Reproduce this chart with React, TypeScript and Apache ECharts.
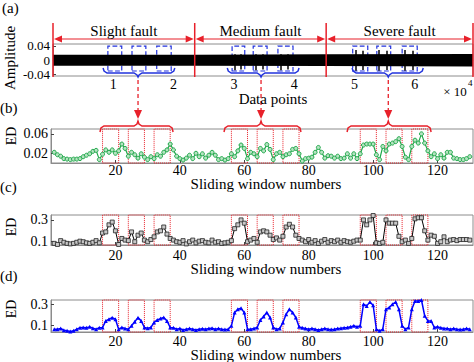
import React, { useEffect, useRef } from "react";
import * as echarts from "echarts";

const FONT = '"Liberation Serif", "Times New Roman", serif';
const RED = "#e8202a";
const BLUE = "#2233dd";

// ---- panel (a): signal ----
const faultLabels = ["Slight fault", "Medium fault", "Severe fault"];
const faultSegments = [0, 23500, 45300, 69650];
const envX = [0, 23500, 23500, 45300, 45300, 69650];
const envUpper = [0.015, 0.015, 0.016, 0.016, 0.017, 0.017];
const envLower = [-0.016, -0.016, -0.017, -0.017, -0.018, -0.018];
const spikeX = [30200, 31200, 33700, 34800, 37800, 39000, 50200, 51400, 54100, 55300, 58300, 59600];
const spikeHigh = [0.016, 0.016, 0.016, 0.016, 0.016, 0.016, 0.028, 0.026, 0.028, 0.026, 0.028, 0.026];
const spikeLow = [-0.029, -0.027, -0.029, -0.027, -0.029, -0.027, -0.03, -0.028, -0.03, -0.028, -0.03, -0.028];
const signalBoxes = [
  [9100, 11400], [13100, 15400], [17200, 19600],
  [29700, 31800], [33200, 35500], [37300, 39800],
  [49700, 52200], [53700, 56000], [57900, 60400],
];
const boxY = [-0.031, 0.039];
const signalBraces = [
  [8300, 20200, 14100],
  [28900, 40800, 34500],
  [49600, 61400, 55600],
];
const signalTicks = [10000, 20000, 30000, 40000, 50000, 60000];
const ampTicks = [-0.04, 0, 0.04];

// ---- panels (b)-(d): ED per sliding window ----
const windowTicks = [20, 40, 60, 80, 100, 120];
const faultWindows = [
  [16, 21], [24, 29], [32, 37],
  [56, 61], [64, 69], [72, 77],
  [96, 101], [104, 109], [112, 117],
];
const windowBraces = [
  [15.2, 37.9, 27],
  [53.7, 77.6, 65.2],
  [91.9, 118, 104.7],
];
const edB = [
  0.022, 0.017, 0.014, 0.009, 0.008, 0.007, 0.008, 0.008, 0.009, 0.013,
  0.016, 0.019, 0.024, 0.026, 0.007, 0.018, 0.027, 0.022, 0.027, 0.020,
  0.025, 0.039, 0.030, 0.014, 0.022, 0.017, 0.010, 0.019, 0.012, 0.007,
  0.013, 0.009, 0.017, 0.014, 0.022, 0.027, 0.039, 0.027, 0.014, 0.009,
  0.006, 0.010, 0.016, 0.009, 0.020, 0.013, 0.019, 0.010, 0.016, 0.022,
  0.016, 0.007, 0.009, 0.006, 0.009, 0.019, 0.013, 0.025, 0.037, 0.030,
  0.009, 0.022, 0.019, 0.013, 0.030, 0.025, 0.038, 0.028, 0.007, 0.019,
  0.022, 0.013, 0.017, 0.019, 0.028, 0.030, 0.019, 0.004, 0.009, 0.010,
  0.012, 0.022, 0.032, 0.022, 0.010, 0.015, 0.014, 0.010, 0.014, 0.009,
  0.010, 0.019, 0.010, 0.019, 0.009, 0.019, 0.037, 0.039, 0.039, 0.039,
  0.017, 0.007, 0.034, 0.025, 0.039, 0.041, 0.044, 0.050, 0.034, 0.012,
  0.007, 0.034, 0.047, 0.041, 0.060, 0.041, 0.025, 0.013, 0.019, 0.009,
  0.017, 0.010, 0.022, 0.022, 0.010, 0.009, 0.007, 0.007, 0.009, 0.013,
];
const edC = [
  0.085, 0.075, 0.110, 0.095, 0.085, 0.080, 0.085, 0.095, 0.105, 0.100,
  0.090, 0.085, 0.095, 0.110, 0.090, 0.180, 0.190, 0.255, 0.280, 0.200,
  0.075, 0.130, 0.115, 0.110, 0.190, 0.100, 0.160, 0.180, 0.115, 0.100,
  0.120, 0.145, 0.190, 0.200, 0.235, 0.170, 0.130, 0.115, 0.100, 0.095,
  0.110, 0.080, 0.100, 0.115, 0.090, 0.105, 0.110, 0.095, 0.090, 0.115,
  0.095, 0.100, 0.085, 0.090, 0.095, 0.110, 0.220, 0.255, 0.300, 0.270,
  0.100, 0.115, 0.130, 0.095, 0.190, 0.200, 0.190, 0.160, 0.120, 0.135,
  0.115, 0.150, 0.235, 0.260, 0.235, 0.160, 0.130, 0.115, 0.100, 0.120,
  0.095, 0.110, 0.085, 0.105, 0.120, 0.095, 0.110, 0.100, 0.115, 0.095,
  0.110, 0.100, 0.095, 0.105, 0.115, 0.115, 0.300, 0.255, 0.300, 0.340,
  0.090, 0.085, 0.095, 0.300, 0.270, 0.270, 0.270, 0.150, 0.100, 0.115,
  0.085, 0.130, 0.310, 0.320, 0.320, 0.200, 0.115, 0.160, 0.150, 0.085,
  0.100, 0.145, 0.100, 0.115, 0.120, 0.110, 0.120, 0.120, 0.120, 0.115,
];
const edD = [
  0.062, 0.062, 0.068, 0.052, 0.046, 0.040, 0.046, 0.062, 0.075, 0.078,
  0.075, 0.084, 0.071, 0.062, 0.075, 0.078, 0.141, 0.157, 0.172, 0.157,
  0.062, 0.078, 0.068, 0.062, 0.094, 0.132, 0.172, 0.141, 0.078, 0.071,
  0.078, 0.126, 0.150, 0.163, 0.173, 0.141, 0.078, 0.075, 0.062, 0.068,
  0.055, 0.062, 0.068, 0.062, 0.055, 0.062, 0.065, 0.062, 0.068, 0.071,
  0.062, 0.068, 0.062, 0.058, 0.062, 0.094, 0.220, 0.252, 0.262, 0.220,
  0.062, 0.062, 0.068, 0.078, 0.150, 0.183, 0.220, 0.173, 0.078, 0.062,
  0.068, 0.126, 0.205, 0.252, 0.220, 0.173, 0.084, 0.075, 0.068, 0.062,
  0.068, 0.062, 0.055, 0.062, 0.068, 0.062, 0.058, 0.062, 0.068, 0.071,
  0.075, 0.078, 0.084, 0.094, 0.084, 0.094, 0.300, 0.284, 0.320, 0.290,
  0.062, 0.046, 0.062, 0.252, 0.268, 0.300, 0.320, 0.252, 0.094, 0.062,
  0.078, 0.252, 0.330, 0.330, 0.340, 0.190, 0.141, 0.141, 0.078, 0.084,
  0.075, 0.068, 0.068, 0.062, 0.068, 0.062, 0.058, 0.062, 0.068, 0.062,
];
const edTicksB = [0.02, 0.06];
const edTicksCD = [0.1, 0.3];

const pairs = (vals: number[]) => vals.map((v, i) => [i + 1, v]);

const tickStyle = { show: true, inside: true, length: 3, lineStyle: { color: "#444" } };
const lineStyleAxis = { show: true, lineStyle: { color: "#8c8c8c", width: 1 } };

function xAx(gi: number, min: number, max: number, ticks: number[], margin: number, fmt?: (v: number) => string) {
  return {
    type: "value", gridIndex: gi, min, max,
    axisLine: lineStyleAxis,
    axisTick: { ...tickStyle, customValues: ticks },
    axisLabel: {
      color: "#000", fontSize: 14, fontFamily: FONT, margin, hideOverlap: false,
      showMinLabel: true, showMaxLabel: true,
      customValues: ticks, formatter: fmt || ((v: number) => String(v)),
    },
    splitLine: { show: false },
  };
}
function yAx(gi: number, min: number, max: number, ticks: number[], size = 14) {
  return {
    type: "value", gridIndex: gi, min, max,
    axisLine: lineStyleAxis,
    axisTick: { ...tickStyle, customValues: ticks },
    axisLabel: {
      color: "#000", fontSize: size, fontFamily: FONT, margin: 3, hideOverlap: false,
      showMinLabel: true, showMaxLabel: true,
      customValues: ticks, formatter: (v: number) => String(v),
    },
    splitLine: { show: false },
  };
}

const redDotted = {
  silent: true,
  itemStyle: { color: "rgba(0,0,0,0)", borderColor: RED, borderWidth: 1, borderType: "dotted" },
  data: faultWindows.map(([a, b]) => [{ xAxis: a }, { xAxis: b }]),
};

function txt(x: number, y: number, text: string, size: number, align = "center", rot = 0) {
  return {
    type: "text", x, y, rotation: rot, z: 100,
    style: {
      text, fill: "#000", fontSize: size, fontFamily: FONT,
      align, verticalAlign: "middle", textAlign: align, textVerticalAlign: "middle",
    },
  };
}

export default function App() {
  const ref = useRef<HTMLDivElement>(null);
  useEffect(() => {
    if (!ref.current) return;
    const chart = echarts.init(ref.current, undefined, { renderer: "svg" });
    const gridBase = { show: true, borderColor: "#8c8c8c", borderWidth: 1, backgroundColor: "#fff" };
    const option: any = {
      animation: false,
      grid: [
        { ...gridBase, left: 53, top: 44, width: 420, height: 32 },
        { ...gridBase, left: 51, top: 129, width: 422, height: 34 },
        { ...gridBase, left: 51, top: 215, width: 422, height: 30 },
        { ...gridBase, left: 51, top: 300, width: 422, height: 32 },
      ],
      xAxis: [
        xAx(0, 0, 69650, signalTicks, 1, (v: number) => String(v / 10000)),
        xAx(1, 0, 131, windowTicks, 0),
        xAx(2, 0, 131, windowTicks, 3),
        xAx(3, 0, 131, windowTicks, 2),
      ],
      yAxis: [
        yAx(0, -0.045, 0.045, ampTicks, 13),
        yAx(1, 0, 0.07, edTicksB),
        yAx(2, 0.07, 0.345, edTicksCD),
        yAx(3, 0.035, 0.34, edTicksCD),
      ],
      series: [
        {
          type: "line", xAxisIndex: 0, yAxisIndex: 0, symbol: "none",
          data: envX.map((x, i) => [x, envUpper[i]]),
          lineStyle: { width: 0, color: "#000" }, areaStyle: { color: "#000", opacity: 1 },
          markArea: {
            silent: true,
            itemStyle: { color: "rgba(0,0,0,0)", borderColor: BLUE, borderWidth: 1.2, borderType: "dashed" },
            data: signalBoxes.map(([a, b]) => [{ coord: [a, boxY[0]] }, { coord: [b, boxY[1]] }]),
          },
        },
        {
          type: "line", xAxisIndex: 0, yAxisIndex: 0, symbol: "none",
          data: envX.map((x, i) => [x, envLower[i]]),
          lineStyle: { width: 0, color: "#000" }, areaStyle: { color: "#000", opacity: 1 },
          markLine: {
            silent: true, symbol: "none", label: { show: false },
            lineStyle: { color: "#000", width: 1.5, type: "solid" },
            data: spikeX.map((x, i) => [{ coord: [x, spikeLow[i]] }, { coord: [x, spikeHigh[i]] }]),
          },
        },
        {
          type: "line", xAxisIndex: 1, yAxisIndex: 1, data: pairs(edB),
          symbol: "circle", symbolSize: 4,
          itemStyle: { color: "#b5e3c1", borderColor: "#1fa84a", borderWidth: 1 },
          lineStyle: { color: "#1fa84a", width: 1.2 },
          markArea: redDotted,
        },
        {
          type: "line", xAxisIndex: 2, yAxisIndex: 2, data: pairs(edC),
          symbol: "rect", symbolSize: 4,
          itemStyle: { color: "#c8c8c8", borderColor: "#222", borderWidth: 0.8 },
          lineStyle: { color: "#000", width: 1 },
          markArea: redDotted,
        },
        {
          type: "line", xAxisIndex: 3, yAxisIndex: 3, data: pairs(edD),
          symbol: "triangle", symbolSize: 4,
          itemStyle: { color: "#0000ff" },
          lineStyle: { color: "#0000ff", width: 1.5 },
          markArea: redDotted,
        },
      ],
    };
    chart.setOption(option);

    const px = (gi: number, x: number, y: number) => chart.convertToPixel({ gridIndex: gi } as any, [x, y]) as number[];
    const g: any[] = [];
    // (a) segment boundaries and arrows
    const segPx = faultSegments.map((s) => px(0, s, 0)[0]);
    segPx.forEach((x) => {
      g.push({ type: "line", z: 100, shape: { x1: x, y1: 23, x2: x, y2: 77 }, style: { stroke: RED, lineWidth: 1.5 } });
    });
    for (let i = 0; i < 3; i++) {
      const x1 = segPx[i] + 1;
      const x2 = segPx[i + 1] - 1;
      const y = 39;
      g.push({ type: "line", z: 100, shape: { x1: x1 + 4, y1: y, x2: x2 - 4, y2: y }, style: { stroke: RED, lineWidth: 1.2 } });
      g.push({ type: "polygon", z: 100, shape: { points: [[x1, y], [x1 + 8, y - 3.5], [x1 + 8, y + 3.5]] }, style: { fill: RED } });
      g.push({ type: "polygon", z: 100, shape: { points: [[x2, y], [x2 - 8, y - 3.5], [x2 - 8, y + 3.5]] }, style: { fill: RED } });
      g.push(txt((x1 + x2) / 2, 31, faultLabels[i], 15));
    }
    // (a) blue braces and red dashed arrows
    signalBraces.forEach(([a, b, c]) => {
      const x1 = px(0, a, 0)[0];
      const x2 = px(0, b, 0)[0];
      const cx = px(0, c, 0)[0];
      const y0 = 68;
      g.push({
        type: "polyline", z: 100,
        shape: { points: [[x1, y0], [x1 + 1, y0 + 3], [x1 + 4, y0 + 5], [cx - 4, y0 + 5], [cx - 1, y0 + 7], [cx, y0 + 9], [cx + 1, y0 + 7], [cx + 4, y0 + 5], [x2 - 4, y0 + 5], [x2 - 1, y0 + 3], [x2, y0]] },
        style: { stroke: BLUE, lineWidth: 1.5, fill: null },
      });
      g.push({ type: "line", z: 100, shape: { x1: cx, y1: 80, x2: cx, y2: 111 }, style: { stroke: RED, lineWidth: 1.3, lineDash: [4, 3] } });
      g.push({ type: "polygon", z: 100, shape: { points: [[cx - 4, 110], [cx + 4, 110], [cx, 119]] }, style: { fill: RED } });
    });
    // (b) red braces
    windowBraces.forEach(([a, b, c]) => {
      const x1 = px(1, a, 0)[0];
      const x2 = px(1, b, 0)[0];
      const cx = px(1, c, 0)[0];
      const y0 = 132, yh = 126, yt = 121;
      g.push({
        type: "polyline", z: 100,
        shape: { points: [[x1, y0], [x1 + 1, y0 - 4], [x1 + 4, yh], [cx - 4, yh], [cx - 1, yh - 2], [cx, yt], [cx + 1, yh - 2], [cx + 4, yh], [x2 - 4, yh], [x2 - 1, y0 - 4], [x2, y0]] },
        style: { stroke: RED, lineWidth: 1.5, fill: null },
      });
    });
    // texts
    g.push(txt(2, 8, "(a)", 15, "left"));
    g.push(txt(0, 108, "(b)", 15, "left"));
    g.push(txt(0, 187, "(c)", 15, "left"));
    g.push(txt(0, 276, "(d)", 15, "left"));
    g.push(txt(10, 58, "Amplitude", 15, "center", Math.PI / 2));
    g.push(txt(11, 136, "ED", 14, "center", Math.PI / 2));
    g.push(txt(11, 227, "ED", 14, "center", Math.PI / 2));
    g.push(txt(11, 309, "ED", 14, "center", Math.PI / 2));
    g.push(txt(273, 99, "Data points", 15));
    g.push(txt(266, 184, "Sliding window numbers", 15));
    g.push(txt(266, 269, "Sliding window numbers", 15));
    g.push(txt(266, 355, "Sliding window numbers", 15));
    g.push(txt(455, 91, "× 10", 13));
    g.push(txt(468, 83, "4", 9, "left"));
    chart.setOption({ graphic: g });

    return () => chart.dispose();
  }, []);
  return <div ref={ref} style={{ position: "fixed", left: 0, top: 0, width: 474, height: 362, background: "#fff" }} />;
}
